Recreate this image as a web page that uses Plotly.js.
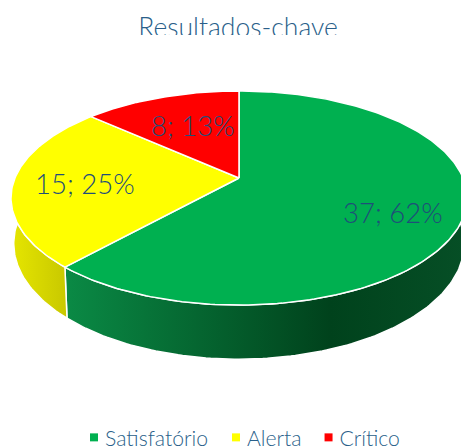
<!DOCTYPE html>
<html>
<head>
<meta charset="utf-8">
<script src="https://cdn.plot.ly/plotly-3.0.1.min.js"></script>
<style>
html,body{margin:0;padding:0;background:#fff;overflow:hidden}
#chart{width:461px;height:448px;position:relative}
#titleCut{position:absolute;left:0;top:35px;width:461px;height:14px;background:#fff;z-index:5;pointer-events:none}
.legend .traces .legendsymbols{transform:translateX(9px)}
.legend .traces:nth-child(2) .legendsymbols,.legend .groups:nth-child(2) .legendsymbols{transform:translateX(3px)}
.legend .traces:nth-child(2) .legendtext,.legend .groups:nth-child(2) .legendtext{transform:translateX(-6px)}
.legend .traces:nth-child(3) .legendsymbols,.legend .groups:nth-child(3) .legendsymbols{transform:translateX(-4px)}
.legend .traces:nth-child(3) .legendtext,.legend .groups:nth-child(3) .legendtext{transform:translateX(-13px)}
</style>
</head>
<body>
<div id="chart"></div>
<div id="titleCut"></div>
<script>
// Data
var categories = ["Satisfatório", "Alerta", "Crítico"];
var values = [37, 15, 8];
var colors = ["#00B050", "#FFFF00", "#FF0000"];
var chartTitle = "Resultados-chave";

// Perspective pie geometry
var cx = 239, cy = 178, R = 224, tilt = 0.187, lift = 70, depth = 44, shrink = 0.988;
var textColor = "#1F4E79", fontName = "Lato, 'Open Sans', sans-serif";
var total = values.reduce(function (a, b) { return a + b; }, 0);
function rim(deg) {
  var t = deg * Math.PI / 180, w = 1 + tilt * Math.cos(t);
  return [cx + R * Math.sin(t) / w, (cy - lift * Math.cos(t)) / w, w];
}
function rimLow(deg) {
  var p = rim(deg);
  return [cx + (p[0] - cx) * shrink, p[1] + depth / p[2]];
}
function range(a, b) {
  var r = [], n = Math.ceil(Math.abs(b - a)), i;
  for (i = 0; i <= n; i++) r.push(a + (b - a) * i / n);
  return r;
}
var edges = [0];
values.forEach(function (v, i) { edges.push(edges[i] + v / total * 360); });

function wall(from, to, scale) {
  var top = range(from, to).map(rim);
  var low = range(to, from).map(rimLow);
  var pts = top.concat(low);
  pts.push(pts[0]);
  return {
    type: "scatter", mode: "lines", fill: "toself", hoverinfo: "skip", showlegend: false,
    x: pts.map(function (p) { return p[0]; }), y: pts.map(function (p) { return p[1]; }),
    line: { color: "#fff", width: 1.5 },
    fillgradient: { type: "horizontal", colorscale: scale }
  };
}
var traces = [
  wall(90, edges[1], [[0, "#0A8A45"], [0.66, "#00421C"], [1, "#064F26"]]),
  wall(edges[1], 290, [[0, "#E6E600"], [1, "#C8C800"]])
];

values.forEach(function (v, i) {
  var pts = [[cx, cy]].concat(range(edges[i], edges[i + 1]).map(rim));
  pts.push([cx, cy]);
  traces.push({
    type: "scatter", mode: "lines", fill: "toself", fillcolor: colors[i], hoverinfo: "skip", showlegend: false,
    x: pts.map(function (p) { return p[0]; }), y: pts.map(function (p) { return p[1]; }),
    line: { color: "#fff", width: 1.5 }
  });
});
categories.forEach(function (c, i) {
  traces.push({
    type: "scatter", mode: "markers", name: c, x: [null], y: [null],
    marker: { symbol: "square", size: 8, color: colors[i] }
  });
});

var labelAt = [[393, 212], [85, 183], [193, 125]];
var annotations = values.map(function (v, i) {
  return {
    x: labelAt[i][0], y: labelAt[i][1], xref: "x", yref: "y", showarrow: false,
    text: v + "; " + Math.round(v / total * 100) + "%",
    font: { family: fontName, size: 27.5, color: textColor, weight: 300 }
  };
});

var layout = {
  width: 461, height: 448,
  margin: { l: 0, r: 0, t: 0, b: 0, autoexpand: false },
  paper_bgcolor: "#fff", plot_bgcolor: "#fff",
  title: {
    text: chartTitle, x: 238 / 461, xanchor: "center", y: 1 - 37 / 448, yanchor: "bottom",
    font: { family: fontName, size: 26.5, color: "#2A5F8A", weight: 300 }
  },
  xaxis: { range: [0, 461], visible: false, fixedrange: true },
  yaxis: { range: [448, 0], visible: false, fixedrange: true },
  showlegend: true,
  legend: {
    orientation: "h", x: 65 / 461, xanchor: "left", y: 0.069, yanchor: "top",
    font: { family: fontName, size: 21.2, color: "#2A5F8A", weight: 300 },
    bgcolor: "rgba(0,0,0,0)", tracegroupgap: 0
  },
  annotations: annotations
};
Plotly.newPlot("chart", traces, layout, { displayModeBar: false, staticPlot: true });
</script>
</body>
</html>
